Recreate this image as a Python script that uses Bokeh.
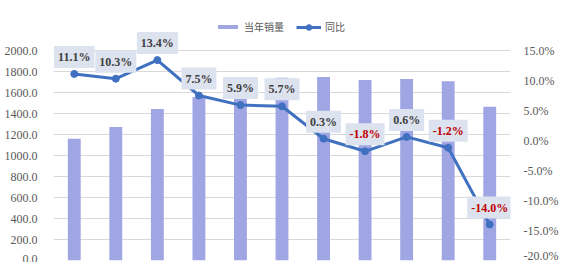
from bokeh.plotting import figure
from bokeh.models import (ColumnDataSource, Range1d, LinearAxis, FixedTicker,
                          NumeralTickFormatter, PrintfTickFormatter, Legend, LegendItem, FactorRange)
from bokeh.core.properties import value
from bokeh.embed import file_html
from bokeh.resources import INLINE

categories = ["1", "2", "3", "4", "5", "6", "7", "8", "9", "10", "11"]
sales = [1160, 1271, 1443, 1557, 1650, 1740, 1748, 1718, 1728, 1708, 1465]
yoy = [11.1, 10.3, 13.4, 7.5, 5.9, 5.7, 0.3, -1.8, 0.6, -1.2, -14.0]
left_ticks = [0, 200, 400, 600, 800, 1000, 1200, 1400, 1600, 1800, 2000]
right_ticks = [-20, -15, -10, -5, 0, 5, 10, 15]
legend_labels = ["当年销量", "同比"]

BAR = "#A0A6E4"
LINE = "#4070C0"
GRAY = "#595959"
SERIF = "Liberation Serif"

# frame spans the whole height above the x axis; axis values 0..2000 and
# -20%..15% occupy the lowest 210 px of the 260 px frame
FRAME_H = 260.0
AXIS_H = 210.0
left_top = 2000 * FRAME_H / AXIS_H
right_top = -20 + 35 * FRAME_H / AXIS_H

src = ColumnDataSource(dict(
    cat=categories, sales=sales, yoy=yoy,
    lab=["%.1f%%" % v for v in yoy],
    col=["#C00000" if v < 0 else "#404040" for v in yoy],
))

p = figure(width=564, height=262, x_range=FactorRange(*categories, range_padding=0),
           y_range=Range1d(0, left_top), output_backend="svg", toolbar_location=None,
           min_border_left=53, min_border_right=54, min_border_top=0, min_border_bottom=2)
p.extra_y_ranges = {"pct": Range1d(-20, right_top)}
p.outline_line_color = None
p.xaxis.visible = False
p.xgrid.visible = False

ya = p.yaxis[0]
ya.ticker = FixedTicker(ticks=left_ticks)
ya.formatter = NumeralTickFormatter(format="0.0")
ya.axis_line_color = None
ya.major_tick_line_color = None
ya.minor_tick_line_color = None
ya.major_label_text_font = SERIF
ya.major_label_text_font_size = "12px"
ya.major_label_text_color = GRAY
ya.major_label_standoff = 10

ra = LinearAxis(y_range_name="pct", ticker=FixedTicker(ticks=right_ticks),
                formatter=PrintfTickFormatter(format="%.1f%%"))
ra.axis_line_color = None
ra.major_tick_line_color = None
ra.minor_tick_line_color = None
ra.major_label_text_font = SERIF
ra.major_label_text_font_size = "12px"
ra.major_label_text_color = GRAY
ra.major_label_standoff = 7
p.add_layout(ra, "right")

p.ygrid.ticker = FixedTicker(ticks=left_ticks)
p.ygrid.grid_line_color = "#D9D9D9"

bars = p.vbar(x="cat", top="sales", width=0.31, source=src, fill_color=BAR, line_color=None)
ln = p.line(x="cat", y="yoy", source=src, y_range_name="pct", line_color=LINE, line_width=3)
pts = p.scatter(x="cat", y="yoy", source=src, y_range_name="pct", size=7,
                fill_color=LINE, line_color=LINE)

p.text(x="cat", y="yoy", text="lab", source=src, y_range_name="pct",
       text_font=value(SERIF), text_font_style="bold", text_font_size="12px",
       text_color="col", text_align="center", text_baseline="middle", y_offset=-17,
       background_fill_color="#DCE2EE", padding=4)

common = dict(orientation="horizontal", label_text_font="Noto Sans CJK SC",
              label_text_font_size="10px", label_text_color=GRAY, glyph_width=25,
              label_standoff=4, padding=0, margin=0, border_line_color=None,
              background_fill_alpha=0)
legend_bar = Legend(items=[LegendItem(label=legend_labels[0], renderers=[bars])],
                    location=(162, 226), glyph_height=5, **common)
legend_line = Legend(items=[LegendItem(label=legend_labels[1], renderers=[ln, pts])],
                     location=(243, 226), glyph_height=14, **common)
p.add_layout(legend_bar)
p.add_layout(legend_line)

open("out.html", "w").write(file_html(p, INLINE))
